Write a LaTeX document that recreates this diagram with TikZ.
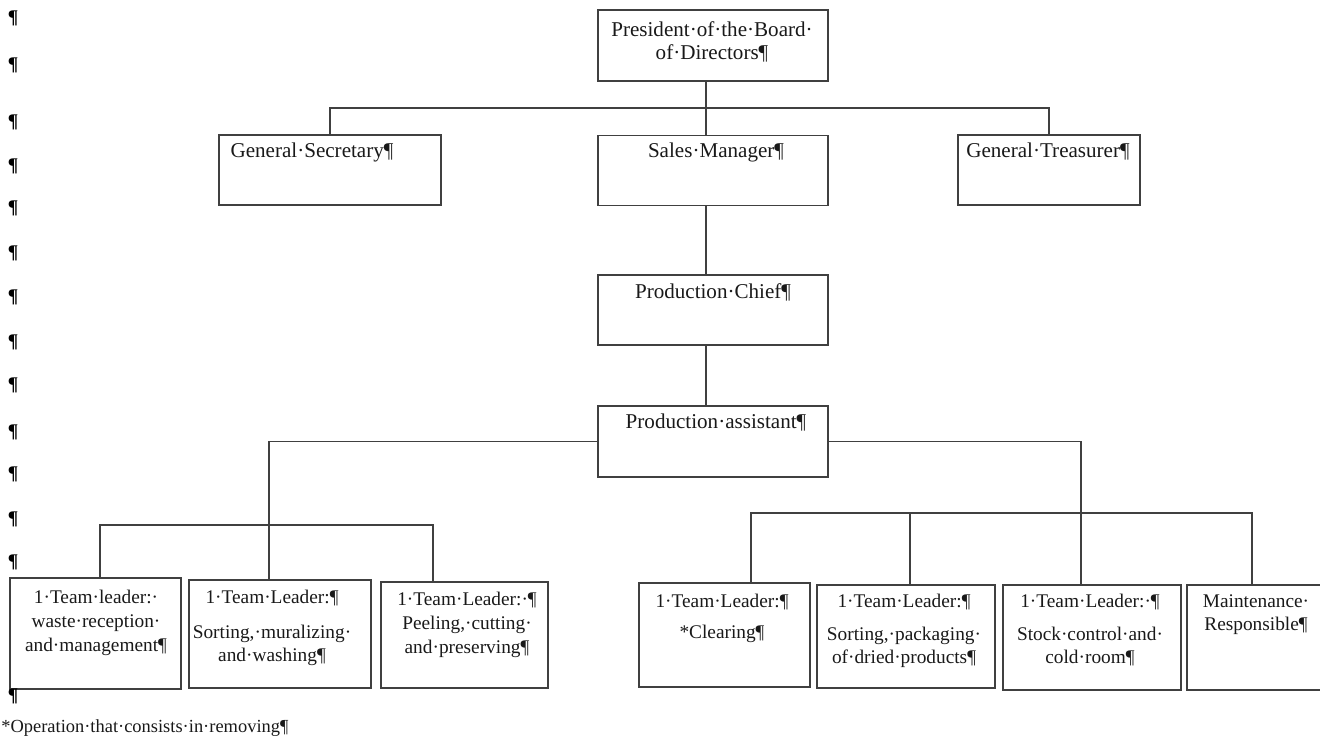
\documentclass[tikz,border=0pt]{standalone}
\usepackage{fontspec}
\setmainfont{Liberation Serif}
\begin{document}
\begin{tikzpicture}[x=0.02cm,y=-0.02cm,
  orgbox/.style={draw=black!75,line width=0.8pt,minimum height=1.4cm,inner sep=0pt},
  link/.style={draw=black!75,line width=0.8pt},
  toptxt/.style={anchor=north,align=center,inner sep=0pt,text=black!90,font=\fontsize{12}{13.5}\selectfont},
  lowtxt/.style={anchor=north,align=center,inner sep=0pt,text=black!90,font=\fontsize{11}{13.5}\selectfont},
  pil/.style={inner sep=0pt,text=black,font=\fontsize{11}{13}\selectfont\bfseries}]
  \useasboundingbox (0,0) rectangle (1320,750);
  % boxes
  \node[orgbox,minimum width=4.6cm,minimum height=1.42cm] (pres) at (713,45.5) {};
  \node[orgbox,minimum width=4.44cm] (sec) at (330,170) {};
  \node[orgbox,minimum width=4.6cm] (sales) at (713,170.5) {};
  \node[orgbox,minimum width=3.64cm] (treas) at (1049,170) {};
  \node[orgbox,minimum width=4.6cm] (chief) at (713,310) {};
  \node[orgbox,minimum width=4.6cm,minimum height=1.42cm] (asst) at (713,441.5) {};
  \node[orgbox,minimum width=3.42cm,minimum height=2.22cm] (b1) at (95.5,633.5) {};
  \node[orgbox,minimum width=3.64cm,minimum height=2.16cm] (b2) at (280,634) {};
  \node[orgbox,minimum width=3.34cm,minimum height=2.12cm] (b3) at (464.5,635) {};
  \node[orgbox,minimum width=3.42cm,minimum height=2.08cm] (b4) at (724.5,635) {};
  \node[orgbox,minimum width=3.56cm,minimum height=2.06cm] (b5) at (906,636.5) {};
  \node[orgbox,minimum width=3.56cm,minimum height=2.1cm] (b6) at (1092,637.5) {};
  \node[orgbox,minimum width=2.76cm,minimum height=2.1cm] (b7) at (1256,637.5) {};
  % texts
  \node[toptxt] (tpres) at (712,21) {President·of·the·Board·\\of·Directors¶};
  \node[toptxt] (tsec) at (312,143) {General·Secretary¶};
  \node[toptxt] (tsales) at (716,143) {Sales·Manager¶};
  \node[toptxt] (ttreas) at (1048,143) {General·Treasurer¶};
  \node[toptxt] (tchief) at (713,283) {Production·Chief¶};
  \node[toptxt] (tasst) at (716,414) {Production·assistant¶};
  \node[lowtxt] (t1) at (96,590) {1·Team·leader:·\\waste·reception·\\and·management¶};
  \node[lowtxt] (t2) at (272,590) {1·Team·Leader:¶\\[6pt]Sorting,·muralizing·\\and·washing¶};
  \node[lowtxt] (t3) at (467,592) {1·Team·Leader:·¶\\Peeling,·cutting·\\and·preserving¶};
  \node[lowtxt] (t4) at (722,594) {1·Team·Leader:¶\\[4pt]*Clearing¶};
  \node[lowtxt] (t5) at (904,594) {1·Team·Leader:¶\\[5pt]Sorting,·packaging·\\of·dried·products¶};
  \node[lowtxt] (t6) at (1090,594) {1·Team·Leader:·¶\\[5pt]Stock·control·and·\\cold·room¶};
  \node[lowtxt] (t7) at (1256,594) {Maintenance·\\Responsible¶};
  % connectors
  \coordinate (spine) at (706,0);
  \coordinate (topbus) at (0,108);
  \draw[link] (spine |- pres.south) -- (spine |- sales.north);
  \draw[link] (sec.north) -- (sec.north |- topbus) -- (treas.north |- topbus) -- (treas.north);
  \draw[link] (spine |- sales.south) -- (spine |- chief.north);
  \draw[link] (spine |- chief.south) -- (spine |- asst.north);
  \coordinate (d1) at (100,0);
  \coordinate (d2) at (269,0);
  \coordinate (d3) at (433,0);
  \coordinate (d4) at (751,0);
  \coordinate (d5) at (910,0);
  \coordinate (d6) at (1081,0);
  \coordinate (d7) at (1252,0);
  \coordinate (lbus) at (0,525);
  \coordinate (rbus) at (0,513);
  \draw[link] (asst.west) -| (d2 |- b2.north);
  \draw[link] (asst.east) -| (d6 |- b6.north);
  \draw[link] (d1 |- b1.north) -- (d1 |- lbus) -- (d3 |- lbus) -- (d3 |- b3.north);
  \draw[link] (d4 |- b4.north) -- (d4 |- rbus) -- (d7 |- rbus) -- (d7 |- b7.north);
  \draw[link] (d5 |- rbus) -- (d5 |- b5.north);
  % paragraph marks down the margin
  \foreach \y [count=\i] in {18,65,122,166,208,253,297,342,385,432,474,519,562,696}
    \node[pil] (p\i) at (13,\y) {¶};
  \node[lowtxt,anchor=west,font=\fontsize{10.5}{13}\selectfont] (note) at (1,728) {*Operation·that·consists·in·removing¶};
\end{tikzpicture}
\end{document}
